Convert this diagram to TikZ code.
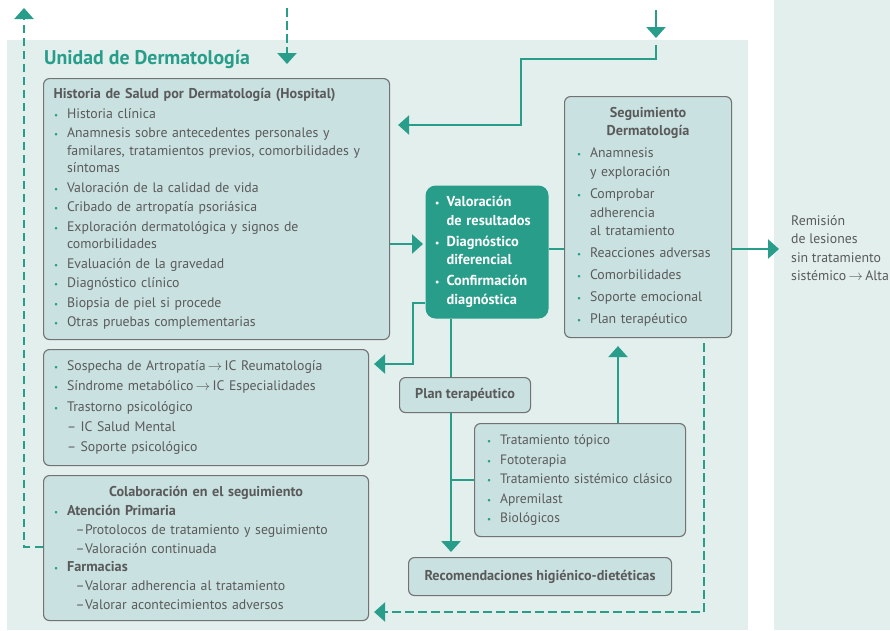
\documentclass[tikz,border=0pt]{standalone}
\usepackage{fontspec}
\setmainfont{PT Sans}
\usetikzlibrary{arrows.meta}
\definecolor{panel}{HTML}{E2EFEC}
\definecolor{boxfill}{HTML}{C9E1E0}
\definecolor{boxline}{HTML}{727272}
\definecolor{tealc}{HTML}{279D8A}
\definecolor{txt}{HTML}{5A5A5A}
\newcommand{\bul}{\makebox[13.5pt][l]{\hspace{0.5pt}\textcolor{tealc}{\fontsize{9}{9}\selectfont\textbullet}}}
\newcommand{\wbul}{\makebox[12pt][l]{\hspace{0.5pt}{\fontsize{9.5}{9}\selectfont\textbullet}}}
\newcommand{\ind}{\hspace*{13.5pt}}
\newcommand{\wind}{\hspace*{12pt}}
\newcommand{\bt}[1]{{\bfseries\fontsize{14.2}{17}\selectfont #1}}
\begin{document}
\begin{tikzpicture}[x=1pt,y=-1pt,
  box/.style={draw=boxline, fill=boxfill, line width=1.1pt, rounded corners=6pt,
    align=left, text=txt, inner xsep=10pt, inner ysep=0pt, anchor=north west},
  cbox/.style={box, align=center, inner xsep=0pt, font=\bfseries\fontsize{14.2}{16}\selectfont},
  conn/.style={draw=tealc, line width=2.5pt},
  arr/.style={conn, -{Triangle[width=19pt,length=11pt]}},
  darr/.style={arr, dash pattern=on 8.5pt off 4.5pt},
]
\useasboundingbox (0,0) rectangle (890,630);
% panels
\fill[panel] (7,40) rectangle (748,630);
\fill[panel] (774,0) rectangle (890,630);
\node[anchor=base west, text=tealc, inner sep=0pt, font=\bfseries\fontsize{19.8}{21}\selectfont] (title) at (44,64) {Unidad de Dermatología};

% Historia box
\node[box, text width=326pt, minimum height=261pt, font=\fontsize{13.8}{17.5}\selectfont] (hist) at (43,78) {%
\bt{Historia de Salud por Dermatología (Hospital)}\\[2pt]
\bul Historia clínica\\[2pt]
\bul Anamnesis sobre antecedentes personales y\\
\ind familares, tratamientos previos, comorbilidades y\\
\ind síntomas\\[2pt]
\bul Valoración de la calidad de vida\\[2pt]
\bul Cribado de artropatía psoriásica\\[2pt]
\bul Exploración dermatológica y signos de\\
\ind comorbilidades\\[2pt]
\bul Evaluación de la gravedad\\[2pt]
\bul Diagnóstico clínico\\[2pt]
\bul Biopsia de piel si procede\\[2pt]
\bul Otras pruebas complementarias};

% Sospecha box
\node[box, text width=305pt, minimum height=116pt, font=\fontsize{13.8}{20.4}\selectfont] (sosp) at (43,349) {%
\bul Sospecha de Artropatía\,$\rightarrow$\,IC Reumatología\\
\bul Síndrome metabólico\,$\rightarrow$\,IC Especialidades\\
\bul Trastorno psicológico\\
\ind\makebox[13.5pt][l]{–}IC Salud Mental\\
\ind\makebox[13.5pt][l]{–}Soporte psicológico};

% Colaboracion box
\node[box, text width=305pt, minimum height=145pt, font=\fontsize{13.8}{18.7}\selectfont] (colab) at (43,475) {%
\makebox[305pt][c]{\bt{Colaboración en el seguimiento}}\\
\bul\bt{Atención Primaria}\\
\hspace*{22pt}\makebox[9.5pt][l]{–}Protolocos de tratamiento y seguimiento\\
\hspace*{22pt}\makebox[9.5pt][l]{–}Valoración continuada\\
\bul\bt{Farmacias}\\
\hspace*{22pt}\makebox[9.5pt][l]{–}Valorar adherencia al tratamiento\\
\hspace*{22pt}\makebox[9.5pt][l]{–}Valorar acontecimientos adversos};

% Center box
\node[box, draw=none, fill=tealc, rounded corners=10pt, text=white, text width=105pt, inner xsep=9pt, minimum height=133pt, font=\bfseries\fontsize{14.4}{18.5}\selectfont] (center) at (425,185) {%
\wbul Valoración\\
\wind de resultados\\[2.5pt]
\wbul Diagnóstico\\
\wind diferencial\\[2.5pt]
\wbul Confirmación\\
\wind diagnóstica};

% Seguimiento box
\node[box, inner xsep=12pt, text width=143pt, minimum height=241pt, font=\fontsize{13.8}{18.7}\selectfont] (seg) at (564,96) {%
\makebox[143pt][c]{\bt{Seguimiento}}\\[-0.5pt]
\makebox[143pt][c]{\bt{Dermatología}}\\[3.3pt]
\bul Anamnesis\\
\ind y exploración\\[3.3pt]
\bul Comprobar\\
\ind adherencia\\
\ind al tratamiento\\[3.3pt]
\bul Reacciones adversas\\[3.3pt]
\bul Comorbilidades\\[3.3pt]
\bul Soporte emocional\\[3.3pt]
\bul Plan terapéutico};

% Plan terapeutico
\node[cbox, minimum width=131pt, minimum height=35pt] (plan) at (399,377) {Plan terapéutico};

% Treatment box
\node[box, inner xsep=12pt, text width=187pt, minimum height=113pt, font=\fontsize{13.6}{19.5}\selectfont] (treat) at (474,423) {%
\bul Tratamiento tópico\\
\bul Fototerapia\\
\mbox{\bul Tratamiento sistémico clásico}\\
\bul Apremilast\\
\bul Biológicos};

% Recomendaciones
\node[cbox, minimum width=263pt, minimum height=38pt] (recom) at (408,557) {Recomendaciones higiénico-dietéticas};

% Remision text
\node[anchor=west, align=left, inner sep=0pt, text=txt, font=\fontsize{13.8}{18.3}\selectfont] (rem) at (791,248) {Remisión\\de lesiones\\sin tratamiento\\sistémico\,$\rightarrow$\,Alta};

% free ends
\coordinate (inTopR) at (656,10);
\coordinate (inTopRend) at (656,38);
\coordinate (inTopR2) at (656,45);
\coordinate (inTopM) at (287,8);
\coordinate (inTopMend) at (287,64);
\coordinate (outTopL) at (24,8);

% connectors
\draw[arr] (inTopR) -- (inTopRend);
\draw[arr, shorten >=8pt] (inTopR2) -- (656,59) -| (521,125) -- (hist.east |- 0,125);
\draw[darr] (inTopM) -- (inTopMend);
\draw[darr] (colab.west |- 0,547) -| (outTopL);
\draw[arr, shorten >=2pt] (hist.east |- 0,244) -- (center.west |- 0,244);
\draw[arr, shorten >=5pt] (center.west |- 0,303) -| (413,364) -- (sosp.east |- 0,364);
\draw[conn] (center.south -| 451,0) -- (plan.north -| 451,0);
\draw[arr, shorten >=5pt] (plan.south -| 451,0) -- (recom.north -| 451,0);
\draw[conn] (451,480) -- (treat.west |- 0,480);
\draw[arr, shorten >=8pt] (treat.north -| 618,0) -- (seg.south -| 618,0);
\draw[conn] (center.east |- 0,249) -- (seg.west |- 0,249);
\draw[arr, shorten >=12pt] (seg.east |- 0,249) -- (rem.west |- 0,249);
\draw[darr, shorten >=5pt] (seg.south -| 704,0) ++(0,5) -- (704,612) -- (colab.east |- 0,612);
\end{tikzpicture}
\end{document}
